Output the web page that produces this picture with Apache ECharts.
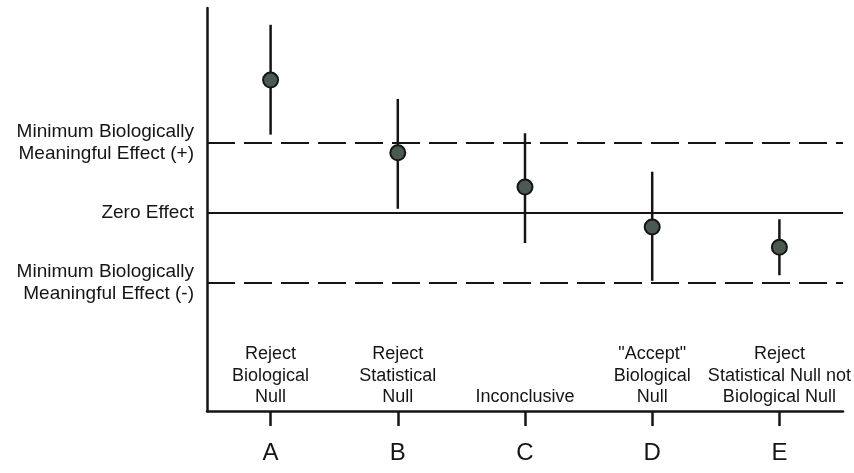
<!DOCTYPE html>
<html>
<head>
<meta charset="utf-8">
<title>Biological vs statistical significance</title>
<script src="https://cdn.jsdelivr.net/npm/echarts@6/dist/echarts.min.js"></script>
<style>
    html, body { margin: 0; padding: 0; background: #fff; }
    #main { width: 854px; height: 473px; }
</style>
</head>
<body>
<div id="main"></div>
<script>
    // categories along the bottom
    const categories = ['A', 'B', 'C', 'D', 'E'];
    const outcomes = [
        'Reject\nBiological\nNull',
        'Reject\nStatistical\nNull',
        'Inconclusive',
        '"Accept"\nBiological\nNull',
        'Reject\nStatistical Null not\nBiological Null'
    ];
    // effect estimates and their intervals (units of the minimum meaningful effect)
    const estimates = [1.90, 0.86, 0.37, -0.20, -0.49];
    const lowerCI = [1.12, 0.06, -0.43, -0.97, -0.89];
    const upperCI = [2.69, 1.63, 1.14, 0.59, -0.09];
    // reference lines and their labels
    const refLevels = [1, 0, -1];
    const refLabels = [
        'Minimum Biologically\nMeaningful Effect (+)',
        'Zero Effect',
        'Minimum Biologically\nMeaningful Effect (-)'
    ];

    const ink = '#151515';
    const font = '"Liberation Sans", Arial, sans-serif';
    const gridBox = { left: 207, right: 11, top: 8, bottom: 62, outerBoundsMode: 'none' };

    const myChart = echarts.init(document.getElementById('main'));

    const option = {
        animation: false,
        backgroundColor: '#fff',
        textStyle: { fontFamily: font, color: ink },
        grid: [Object.assign({}, gridBox), Object.assign({}, gridBox)],
        xAxis: [{
            type: 'category',
            gridIndex: 0,
            data: categories,
            // keep the axis at the bottom, not on y = 0
            axisLine: { show: true, onZero: false, lineStyle: { color: ink, width: 2.5 } },
            axisTick: {
                show: true, interval: 0, alignWithLabel: true, length: 15,
                lineStyle: { color: ink, width: 2.5 }
            },
            axisLabel: { fontSize: 24, margin: 30, color: ink, fontFamily: font }
        }, {
            // outcome text sits just above the x axis, inside the plot
            type: 'category',
            gridIndex: 1,
            position: 'bottom',
            data: outcomes,
            axisLine: { show: false, onZero: false },
            axisTick: { show: false },
            axisLabel: {
                inside: true, margin: 3, fontSize: 18, lineHeight: 21.5,
                color: ink, fontFamily: font, interval: 0
            }
        }],
        yAxis: [{
            type: 'value',
            gridIndex: 0,
            min: -2.83,
            max: 2.93,
            splitLine: { show: false },
            axisTick: { show: false },
            axisLine: { show: true, onZero: false, lineStyle: { color: ink, width: 2.5 } },
            axisLabel: {
                customValues: refLevels,
                fontSize: 19,
                lineHeight: 22,
                margin: 13,
                color: ink,
                fontFamily: font,
                formatter: function (v) {
                    const i = refLevels.indexOf(v);
                    return i >= 0 ? refLabels[i] : '';
                }
            }
        }, {
            type: 'value',
            gridIndex: 1,
            show: false,
            min: -2.83,
            max: 2.93
        }],
        series: [{
            // confidence intervals
            type: 'custom',
            xAxisIndex: 0,
            yAxisIndex: 0,
            data: categories.map(function (c, i) { return [i, lowerCI[i], upperCI[i]]; }),
            encode: { x: 0, y: [1, 2] },
            renderItem: function (params, api) {
                const lo = api.coord([api.value(0), api.value(1)]);
                const hi = api.coord([api.value(0), api.value(2)]);
                return {
                    type: 'line',
                    shape: { x1: lo[0], y1: lo[1], x2: hi[0], y2: hi[1] },
                    style: { stroke: ink, lineWidth: 2.5 }
                };
            },
            z: 3
        }, {
            type: 'scatter',
            xAxisIndex: 0,
            yAxisIndex: 0,
            data: estimates,
            symbol: 'circle',
            symbolSize: 15,
            itemStyle: { color: '#4b5a50', borderColor: ink, borderWidth: 2, opacity: 1 },
            z: 4,
            markLine: {
                silent: true,
                symbol: 'none',
                label: { show: false },
                lineStyle: { color: ink, width: 2 },
                data: [
                    { yAxis: refLevels[0], lineStyle: { type: [28, 9], color: ink, width: 2 } },
                    { yAxis: refLevels[1], lineStyle: { type: 'solid', color: ink, width: 2 } },
                    { yAxis: refLevels[2], lineStyle: { type: [28, 9], color: ink, width: 2 } }
                ]
            }
        }]
    };

    myChart.setOption(option);
</script>
</body>
</html>
